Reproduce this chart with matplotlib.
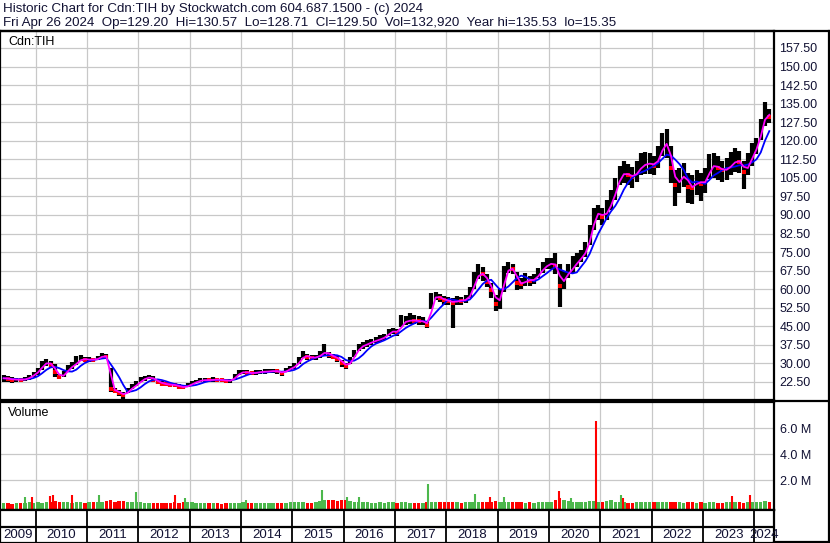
import numpy as np
import pandas as pd
import matplotlib
matplotlib.use("Agg")
import matplotlib.pyplot as plt

plt.rcParams["font.family"] = ["Liberation Sans", "DejaVu Sans"]

# monthly data, May 2009 .. Apr 2024 (one row per year)
close = [
  24.0, 23.8, 23.4, 23.5, 23.4, 23.6, 24.5, 25.6,
  27.0, 29.5, 30.5, 29.5, 26.5, 24.5, 25.5, 28.0, 29.0, 30.5, 32.0, 31.5,
  31.6, 31.5, 32.0, 33.3, 32.5, 19.5, 19.0, 18.0, 17.2, 19.0, 20.5, 21.5,
  23.3, 24.0, 24.5, 23.5, 22.5, 21.8, 21.5, 21.4, 21.2, 20.6, 20.3, 21.0,
  22.0, 22.6, 23.2, 23.3, 23.2, 23.5, 23.4, 23.2, 23.0, 23.0, 24.8, 26.2,
  26.6, 26.2, 26.0, 26.3, 26.6, 26.7, 26.8, 27.0, 26.8, 26.0, 27.3, 28.0,
  29.0, 31.0, 33.5, 32.5, 32.3, 32.5, 33.5, 35.0, 33.3, 32.8, 31.8, 30.2,
  28.8, 31.0, 34.0, 36.5, 37.3, 38.0, 38.8, 39.3, 40.0, 40.7, 42.5, 43.2,
  42.5, 46.5, 47.0, 47.5, 47.3, 47.0, 47.0, 45.5, 56.0, 57.3, 56.3, 55.5,
  55.3, 54.5, 55.5, 55.3, 56.0, 58.0, 64.0, 66.5, 66.0, 63.0, 59.5, 54.0,
  57.0, 66.5, 68.5, 68.0, 62.5, 62.0, 63.8, 63.5, 64.0, 66.5, 68.5, 70.0,
  70.5, 69.5, 61.5, 65.0, 67.0, 69.0, 71.5, 73.0, 76.0, 82.0, 90.0, 91.0,
  89.0, 92.0, 95.5, 101.0, 106.0, 107.0, 106.0, 105.5, 107.5, 110.0, 110.5, 111.0,
  110.0, 113.5, 118.5, 119.0, 109.0, 102.0, 104.5, 106.5, 101.5, 101.0, 104.0, 102.5,
  104.0, 109.5, 110.0, 109.0, 108.0, 108.5, 110.5, 112.0, 111.5, 107.5, 110.5, 115.0,
  118.0, 125.5, 131.5, 129.5,
]
high = [
  25.2, 24.8, 24.5, 24.3, 24.3, 24.4, 25.5, 26.6,
  28.3, 31.0, 31.6, 30.8, 29.8, 25.8, 26.8, 29.3, 30.4, 32.9, 33.3, 32.5,
  32.6, 32.3, 33.0, 34.4, 34.0, 28.3, 20.0, 19.2, 18.5, 20.2, 21.6, 22.8,
  24.4, 25.0, 25.4, 24.8, 23.4, 22.7, 22.4, 22.2, 22.0, 21.5, 21.2, 21.9,
  22.8, 23.5, 24.0, 24.3, 24.1, 24.4, 24.3, 24.0, 23.8, 23.8, 25.9, 27.2,
  27.5, 27.2, 27.0, 27.2, 27.5, 27.6, 27.7, 27.9, 27.7, 27.0, 28.3, 29.0,
  30.2, 32.4, 35.0, 34.0, 33.5, 33.6, 35.0, 38.0, 34.6, 34.0, 33.0, 31.5,
  30.0, 32.5, 35.5, 38.0, 38.5, 39.3, 40.0, 40.5, 41.3, 42.0, 44.0, 44.5,
  44.0, 49.6, 49.0, 50.3, 49.5, 49.0, 48.8, 47.0, 58.5, 59.0, 58.0, 57.3,
  57.0, 56.3, 57.3, 57.0, 57.8, 61.0, 67.0, 70.0, 69.0, 66.0, 62.5, 57.5,
  60.0, 69.5, 71.0, 70.0, 67.0, 64.5, 66.5, 65.5, 66.0, 68.5, 71.0, 72.5,
  72.5, 74.5, 70.0, 67.5, 70.0, 73.5, 74.5, 76.0, 79.0, 86.0, 93.0, 94.0,
  93.0, 96.0, 100.0, 105.0, 110.0, 112.0, 110.5, 109.5, 112.0, 115.0, 115.5, 115.0,
  114.0, 118.0, 123.0, 124.6, 118.0, 108.0, 109.0, 111.0, 107.0, 106.0, 108.0, 107.0,
  109.0, 114.5, 115.0, 114.0, 112.0, 113.0, 115.5, 117.0, 116.0, 112.0, 115.0, 119.0,
  121.0, 129.0, 135.5, 133.0,
]
low = [
  22.6, 22.6, 21.9, 22.5, 22.6, 22.7, 23.4, 24.6,
  25.4, 27.2, 29.0, 28.3, 24.6, 23.6, 24.4, 26.5, 27.9, 29.5, 30.8, 30.6,
  30.7, 30.6, 31.2, 32.3, 31.6, 18.6, 18.0, 16.9, 15.8, 18.0, 19.7, 20.8,
  22.3, 23.1, 23.6, 22.6, 21.6, 21.0, 20.7, 20.6, 20.4, 19.8, 19.5, 20.3,
  21.2, 21.9, 22.4, 22.5, 22.4, 22.6, 22.6, 22.4, 22.2, 22.1, 23.2, 25.3,
  25.8, 25.4, 25.2, 25.5, 25.8, 25.9, 26.0, 26.1, 25.9, 25.0, 26.4, 27.1,
  27.8, 29.8, 32.1, 31.4, 31.3, 31.4, 32.3, 33.6, 32.0, 31.6, 30.5, 28.5,
  27.6, 29.8, 32.6, 35.2, 36.0, 36.8, 37.6, 38.1, 38.8, 39.5, 41.2, 41.9,
  41.2, 44.8, 45.5, 46.0, 45.8, 45.6, 45.6, 44.2, 52.0, 55.7, 54.8, 53.8,
  53.7, 44.2, 53.8, 53.7, 54.3, 56.5, 60.0, 64.0, 63.5, 61.0, 56.5, 51.0,
  52.0, 59.0, 66.5, 66.0, 59.5, 60.0, 61.5, 61.5, 62.0, 64.5, 66.5, 68.0,
  68.0, 66.0, 53.0, 60.0, 64.5, 66.5, 69.0, 71.0, 73.0, 78.0, 84.0, 88.0,
  86.0, 88.0, 92.0, 96.0, 102.0, 103.0, 102.0, 101.0, 103.5, 106.0, 106.5, 106.5,
  106.0, 109.0, 114.0, 113.0, 103.0, 93.5, 99.0, 101.5, 95.0, 94.5, 98.0, 95.5,
  99.0, 104.5, 105.0, 104.0, 103.5, 104.0, 106.0, 107.5, 107.0, 100.5, 106.0, 110.0,
  114.5, 120.5, 126.0, 127.0,
]
# typical daily volume per month (millions)
vol_base = [
  0.25, 0.22, 0.20, 0.22, 0.25, 0.25, 0.30, 0.28,
  0.30, 0.28, 0.30, 0.35, 0.40, 0.35, 0.30, 0.30, 0.28, 0.30, 0.30, 0.28,
  0.30, 0.35, 0.35, 0.30, 0.40, 0.45, 0.35, 0.40, 0.40, 0.35, 0.30, 0.35,
  0.30, 0.28, 0.25, 0.25, 0.28, 0.25, 0.22, 0.22, 0.30, 0.28, 0.30, 0.35,
  0.30, 0.28, 0.25, 0.25, 0.22, 0.25, 0.22, 0.20, 0.22, 0.22, 0.25, 0.25,
  0.30, 0.28, 0.25, 0.25, 0.22, 0.25, 0.25, 0.22, 0.22, 0.28, 0.25, 0.30,
  0.35, 0.30, 0.30, 0.28, 0.25, 0.30, 0.40, 0.45, 0.50, 0.45, 0.40, 0.45,
  0.45, 0.40, 0.35, 0.30, 0.30, 0.30, 0.28, 0.25, 0.30, 0.28, 0.30, 0.30,
  0.28, 0.30, 0.30, 0.25, 0.25, 0.25, 0.22, 0.30, 0.35, 0.30, 0.30, 0.30,
  0.30, 0.35, 0.30, 0.28, 0.30, 0.30, 0.30, 0.35, 0.30, 0.35, 0.35, 0.40,
  0.35, 0.35, 0.30, 0.30, 0.30, 0.30, 0.28, 0.30, 0.28, 0.30, 0.30, 0.35,
  0.35, 0.45, 0.60, 0.45, 0.40, 0.35, 0.35, 0.30, 0.35, 0.40, 0.40, 0.35,
  0.35, 0.40, 0.45, 0.35, 0.30, 0.30, 0.28, 0.28, 0.30, 0.30, 0.30, 0.30,
  0.30, 0.30, 0.35, 0.30, 0.35, 0.35, 0.30, 0.28, 0.30, 0.30, 0.28, 0.30,
  0.28, 0.30, 0.30, 0.28, 0.28, 0.30, 0.30, 0.30, 0.30, 0.28, 0.30, 0.35,
  0.30, 0.35, 0.40, 0.30,
]
# single-day volume spikes (decimal year, millions, up day?)
spike_t = [2009.79, 2009.93, 2010.28, 2010.34, 2010.71, 2011.23, 2011.95, 2012.71,
           2012.91, 2014.10, 2015.58, 2016.06, 2016.30, 2017.64, 2018.56, 2018.85,
           2019.13, 2020.20, 2020.43, 2020.92, 2021.41, 2021.45, 2023.57, 2023.92]
spike_v = [0.70, 0.70, 0.80, 0.85, 0.85, 0.85, 1.10, 0.85,
           0.60, 0.45, 1.25, 0.75, 0.75, 1.75, 0.95, 0.70,
           0.70, 1.20, 0.60, 6.55, 0.85, 0.60, 0.80, 0.90]
spike_up = [1, 0, 0, 0, 0, 1, 1, 0, 1, 1, 1, 1, 1, 1, 1, 0, 1, 0, 1, 0, 1, 0, 0, 0]

years = list(range(2009, 2025))
price_ticks = [22.5 + 7.5 * i for i in range(19)]
vol_ticks = [2, 4, 6]

header1 = "Historic Chart for Cdn:TIH by Stockwatch.com 604.687.1500 - (c) 2024"
header2 = ("Fri Apr 26 2024  Op=129.20  Hi=130.57  Lo=128.71  Cl=129.50  "
           "Vol=132,920  Year hi=135.53  lo=15.35")

W, H = 830, 543
x0, x1 = 2009.3045, 2024.383   # decimal years at left / right edge of panels
GRID = "#c8c8c8"
GREEN = "#4cb84c"
TXT = "#111133"

t = 2009 + (4.5 + np.arange(len(close))) / 12.0
s = pd.Series(close)
ma_fast = s.rolling(2, min_periods=1).mean()
ma_slow = s.rolling(5, min_periods=1).mean()
down = np.r_[False, np.diff(close) < 0]


def box(left, top, width, height):
  return [left / W, 1 - (top + height) / H, width / W, height / H]


fig = plt.figure(figsize=(W / 100, H / 100), dpi=100)

# ---- price panel
ax = fig.add_axes(box(0, 31, 774, 369))
ax.set_xlim(x0, x1)
ax.set_ylim(15.22, 164.37)
ax.set_xticks(years[1:])
ax.set_yticks(price_ticks)
ax.set_yticklabels([f"{v:.2f}" for v in price_ticks])
ax.grid(True, color=GRID, lw=0.9)
ax.set_axisbelow(True)
ax.tick_params(axis="x", length=0, labelbottom=False)
ax.tick_params(axis="y", length=0, left=False, labelleft=False, right=False,
               labelright=True, pad=4, labelsize=9, labelcolor=TXT)
ax.vlines(t, low, high, color="black", lw=3.0)
ax.plot(t[down], np.array(close)[down], "s", color="red", ms=2.2, mew=0)
ax.plot(t, ma_slow, color="#0000ff", lw=1.3)
ax.plot(t, ma_fast, color="#ff00ff", lw=1.3)
ax.text(8 / 774, 1 - 11 / 369, "Cdn:TIH", transform=ax.transAxes, fontsize=9,
        va="center", ha="left")

# ---- volume panel
av = fig.add_axes(box(0, 402, 774, 107.5))
av.set_xlim(x0, x1)
vb = -0.25
av.set_ylim(vb, 8.02)
av.set_xticks(years[1:])
av.set_yticks(vol_ticks)
av.set_yticklabels([f"{v:.1f} M" for v in vol_ticks])
av.grid(True, color=GRID, lw=0.9)
av.set_axisbelow(True)
av.tick_params(axis="x", length=0, labelbottom=False)
av.tick_params(axis="y", length=0, left=False, labelleft=False, right=False,
               labelright=True, pad=4, labelsize=9, labelcolor=TXT)
vcol = ["red" if d else GREEN for d in down]
av.bar(t, np.array(vol_base) - vb, bottom=vb, width=0.8 / 12, color=vcol, lw=0)
av.vlines(spike_t, vb, spike_v, color=[GREEN if u else "red" for u in spike_up], lw=1.5)
av.text(8 / 774, 1 - 11 / 107.5, "Volume", transform=av.transAxes, fontsize=9,
        va="center", ha="left")

# ---- date strip
ad = fig.add_axes(box(0, 509.5, 774, 33.5))
ad.set_xlim(x0, x1)
ad.set_ylim(0, 33.5)
ad.set_xticks([])
ad.set_yticks([])
ad.axhline(16, color="black", lw=1.6)
ad.vlines(years[1:], 0, 33.5, color="black", lw=1.3)
edges = [x0] + years[1:] + [x1]
for i, yr in enumerate(years):
  ad.text((edges[i] + edges[i + 1]) / 2, 8, str(yr), ha="center", va="center",
          fontsize=9.5, color=TXT, clip_on=False)

for a in (ax, av, ad):
  for sp in a.spines.values():
    sp.set_color("black")
    sp.set_linewidth(1.6)

# outer frame and header
fig.add_artist(plt.Line2D([0, 1], [1 - 31 / H, 1 - 31 / H], color="black", lw=1.6))
fig.add_artist(plt.Line2D([828.5 / W, 828.5 / W], [0, 1 - 31 / H], color="black", lw=1.6))
fig.add_artist(plt.Line2D([774 / W, 1], [0.8 / H, 0.8 / H], color="black", lw=1.6))
fig.add_artist(plt.Line2D([774 / W, 1], [1 - 401 / H, 1 - 401 / H], color="black", lw=1.6))
fig.text(3 / W, 1 - 9 / H, header1, fontsize=9.6, va="center", ha="left", color=TXT)
fig.text(3 / W, 1 - 23 / H, header2, fontsize=9.6, va="center", ha="left", color=TXT)

fig.savefig("out.png", dpi=100)
